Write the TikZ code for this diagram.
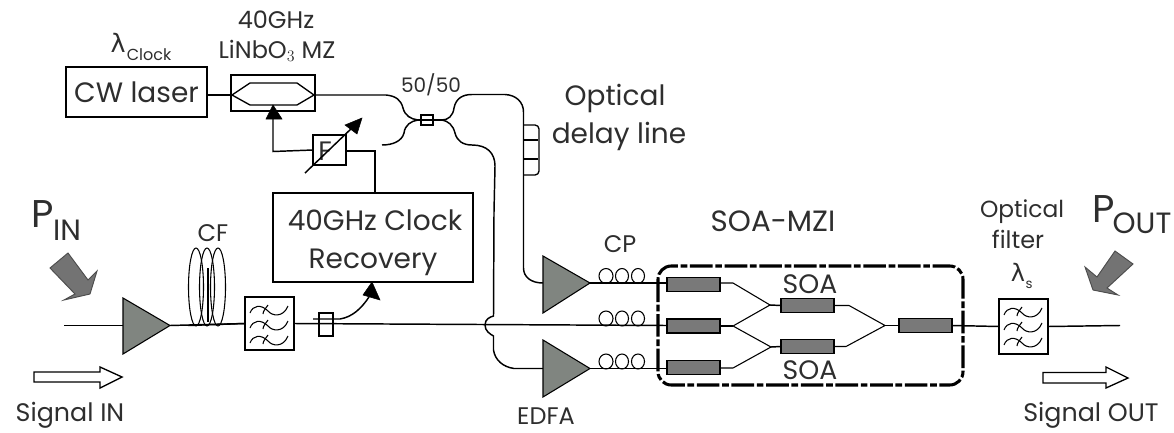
\documentclass[tikz,border=0pt]{standalone}
\usepackage{fontspec}
\setmainfont{Poppins}
\newcommand{\fz}[1]{\fontsize{#1pt}{#1pt}\selectfont}
\definecolor{ampgray}{HTML}{808580}
\definecolor{txt}{HTML}{2E2E2E}
\tikzset{
  x=0.75pt,y=-0.75pt,
  fib/.style={line width=1.1pt,black},
  thinf/.style={line width=0.8pt,black},
  boxn/.style={draw=black,line width=1.2pt,fill=white,inner sep=0pt,outer sep=0pt},
  soa/.style={draw=black,line width=1.2pt,fill=gray!95!black,inner sep=0pt,outer sep=0pt,minimum width=39.75pt,minimum height=10.5pt},
  amp/.style={draw=black,line width=0.8pt,fill=ampgray},
  lab/.style={anchor=base,inner sep=0pt,text=txt},
  blockg/.style={draw=black!70,line width=0.7pt,fill=black!55},
  blockw/.style={draw=black,line width=1pt,fill=white},
  tip/.style={fill=black,draw=black,line width=0.4pt},
  dashbox/.style={draw=black,line width=2.3pt,rounded corners=10pt,dash pattern=on 17pt off 2pt on 5pt off 2pt}
}
\newcommand{\waves}[2]{%
  \begin{scope}[shift={(#1,#2)},thinf]
    \foreach \r in {0,15,30}{
      \draw (5,13+\r) .. controls (8,5+\r) and (16,4+\r) .. (23,11+\r) .. controls (27,16+\r) and (38,18+\r) .. (43,6+\r);
      \draw (23,5+\r) .. controls (21,8+\r) and (18,11+\r) .. (18,14+\r);
    }
  \end{scope}}
\newcommand{\coils}[2]{%
  \begin{scope}[shift={(#1,#2)},thinf]
    \draw (7,-7) circle [x radius=7,y radius=7.5];
    \draw (23,-7) circle [x radius=6.5,y radius=7.5];
    \draw (39,-7) circle [x radius=6.5,y radius=7.5];
  \end{scope}}
\begin{document}
\begin{tikzpicture}
\useasboundingbox (0,0) rectangle (1174,432);
% coordinates
\coordinate (inS) at (64,325.5);
\coordinate (a0in) at (123,325.5);
\coordinate (a0out) at (170,325.5);
\coordinate (outE) at (1120,325.5);
\coordinate (a1in) at (543,283);
\coordinate (a1out) at (590,283);
\coordinate (a2in) at (543,368.5);
\coordinate (a2out) at (590,368.5);
\coordinate (ccL) at (418,120);
\coordinate (ccR) at (442,120);
\coordinate (free) at (382,145);
\coordinate (tapL) at (313,319);
\coordinate (clockTip) at (372,282);
% boxes
\node[boxn,minimum width=105.75pt,minimum height=37.5pt] (cw) at (136.5,92) {};
\node[boxn,minimum width=63pt,minimum height=27pt] (mz) at (273,93) {};
\node[boxn,minimum width=150pt,minimum height=66.75pt] (clk) at (373,237.5) {};
\node[boxn,minimum width=36.75pt,minimum height=39.75pt] (f1) at (269.5,323.5) {};
\node[boxn,minimum width=36.75pt,minimum height=41pt] (f2) at (1023.5,326.5) {};
\node[boxn,minimum width=24.75pt,minimum height=22.5pt] (ps) at (329.5,150) {};
% fibres
\draw[fib] (inS) -- (a0in);
\draw[fib] (a0out) -- (f1.west);
\draw[fib] (f1.east) -- (667,325.5);
\draw[fib] (f2.east) -- (outE);
\draw[fib] (cw.east |- 0,95) -- (mz.west |- 0,95);
\draw[fib] (mz.east |- 0,95) -- (386,95) .. controls (396,96) and (401,100) .. (403,108) .. controls (405,116) and (411,119) .. (ccL);
\draw[fib] (ccL) -- (ccR);
\draw[fib] (ccR) .. controls (448,120) and (453,116) .. (454,108) .. controls (456,98) and (463,94.5) .. (472,94.5) -- (505,94.5) .. controls (516,95) and (523.5,102) .. (523.5,112) -- (523.5,268) .. controls (523.5,277) and (531,283) .. (a1in);
\draw[fib] (ccL) .. controls (411,121) and (405,125) .. (404,133) .. controls (402,141) and (393,145) .. (free);
\draw[fib] (ccR) .. controls (448,121) and (453,125) .. (455,133) .. controls (457,141) and (463,145) .. (472,145) .. controls (487,145) and (495,153) .. (495,166) -- (494,212) -- (493.5,316) .. controls (490,317) and (485,319) .. (485,325) .. controls (485,331) and (490,334) .. (493.5,336) -- (493.5,350) .. controls (495,360) and (503,367) .. (514,368.5) -- (a2in);
% delay line
\draw[thinf,line width=1pt,rounded corners=3pt] (523.5,125) -- (539,125) -- (539,175) -- (523.5,175);
\draw[thinf] (523.5,140) -- (538,140);
\draw[thinf] (523.5,159) -- (538,159);
% coupler
\node[boxn,fill=none,minimum width=9pt,minimum height=7.5pt] (cc) at (427,120) {};
% controls
\draw[fib] (ps.west) -- (273,151.5) -- (273,112);
\draw[fib] (ps.east |- 0,151) -- (375,151) -- (375,193);
\fill[tip] (273,105) -- (282,119) -- (266,119) -- cycle;
\node[lab,font=\fz{20}] (fl) at (325,160) {F};
\draw[fib] (305,173) -- (354,126);
\fill[tip] (362,118) -- (357,134) -- (345,125) -- cycle;
% MZ arms
\draw[thinf,line width=1pt] (232,95) -- (250,83) -- (297,83) -- (314,95) -- (297,105) -- (250,105) -- cycle;
% tap
\draw[fib] (tapL) -- (340,319) .. controls (352,317) and (361,309) .. (369,297);
\fill[tip] (clockTip) -- (380,300) -- (363,295) -- cycle;
\node[boxn,fill=none,minimum width=10.5pt,minimum height=17pt] (tap) at (326,324.5) {};
% CF coil
\begin{scope}[thinf]
\draw (196,287) ellipse [x radius=7.5,y radius=39];
\draw (207,287) ellipse [x radius=7.5,y radius=39];
\draw (218,287) ellipse [x radius=7.5,y radius=39];
\end{scope}
\draw[line width=2pt] (208,268) -- (208,322);
\draw[fib] (188,325.5) -- (f1.west);
% amps
\draw[amp] (a0in) -- (123,298) -- (a0out) -- (123,354) -- cycle;
\draw[amp] (a1in) -- (543,256) -- (a1out) -- (543,313) -- cycle;
\draw[amp] (a2in) -- (543,340) -- (a2out) -- (543,397) -- cycle;
% waves
\waves{245}{300}
\waves{999}{302}
% arms to SOA
\node[soa] (s1) at (693.5,284.5) {};
\node[soa] (s2) at (693.5,326) {};
\node[soa] (s3) at (693.5,367.5) {};
\node[soa] (s4) at (807.5,305.5) {};
\node[soa] (s5) at (807.5,346.5) {};
\node[soa] (s6) at (925.5,325.5) {};
\draw[fib] (a1out) -- (s1.west |- a1out);
\draw[fib] (a2out) -- (s3.west |- a2out);
\draw[fib] (s6.east) -- (f2.west);
\draw[line width=1.8pt] (s2.east) -- (733,326);
\coordinate (j1) at (770,305);
\coordinate (j2) at (771,347);
\coordinate (j3) at (885,325.5);
\draw[thinf] (s1.east |- 0,283) -- (733,283) -- (j1) -- (733,326) -- (j2) -- (733,368) -- (s3.east |- 0,368);
\draw[fib] (j1) -- (s4.west);
\draw[fib] (j2) -- (s5.west);
\draw[thinf] (s4.east) -- (849,305.5) -- (j3) -- (846,346.5) -- (s5.east);
\draw[fib] (j3) -- (s6.west);
\coils{599}{283}
\coils{599}{325.5}
\coils{599}{368.5}
% dash box
\draw[dashbox] (658,266) rectangle (963,385);
% block arrows
\filldraw[blockg] (68,253) -- (50,268) -- (75,294) -- (64,300) -- (90,294) -- (97,271) -- (88,280) -- cycle;
\filldraw[blockg] (1115,251) -- (1133,264) -- (1107,288) -- (1118,295) -- (1093,290) -- (1085,267) -- (1097,277) -- cycle;
\draw[blockw] (34,372) -- (100,372) -- (100,367) -- (122,377) -- (100,388) -- (100,382) -- (34,382) -- cycle;
\draw[blockw] (1043,372.5) -- (1106,372.5) -- (1106,367) -- (1128,378) -- (1106,388) -- (1106,383) -- (1043,383) -- cycle;
% labels
\node[lab,font=\fz{21}] (tcw) at (136.5,102) {CW laser};
\node[lab,font=\fz{21}] (tc1) at (375,230) {40GHz Clock};
\node[lab,font=\fz{21}] (tc2) at (373,268) {Recovery};
\node[lab,font=\fz{21}] (to1) at (615,105) {Optical};
\node[lab,font=\fz{21}] (to2) at (619,143) {delay line};
\node[lab,font=\fz{18}] (t40) at (276,28) {40GHz};
\node[lab,font=\fz{18}] (tli) at (277,58) {LiNbO$_3$ MZ};
\node[lab,font=\fz{15}] (t50) at (431,92) {50/50};
\node[lab,font=\fz{17}] (tlam) at (118,52) {\fontspec{DejaVu Sans}\fz{19}λ};
\node[lab,font=\fz{12}] (tclk) at (149,60) {Clock};
\node[lab,font=\fz{22}] (tmzi) at (773,231) {SOA-MZI};
\node[lab,font=\fz{18}] (tcp) at (620,252) {CP};
\node[lab,font=\fz{18}] (tcf) at (213,241) {CF};
\node[lab,font=\fz{18}] (tedfa) at (546,424) {EDFA};
\node[lab,font=\fz{20}] (ts1) at (810,293) {SOA};
\node[lab,font=\fz{20}] (ts2) at (810,379) {SOA};
\node[lab,font=\fz{17.5}] (tf1) at (1022,217) {Optical};
\node[lab,font=\fz{18}] (tf2) at (1018,248) {filter};
\node[lab,font=\fz{15}] (tl2) at (1018,281) {\fontspec{DejaVu Sans}\fz{18}λ};
\node[lab,font=\fz{10}] (ts) at (1029,288) {s};
\node[lab,font=\fz{29}] (tp1) at (43,227) {P};
\node[lab,font=\fz{22}] (tin) at (67,240) {IN};
\node[lab,font=\fz{29}] (tp2) at (1104,222) {P};
\node[lab,font=\fz{22}] (tout) at (1142,233) {OUT};
\node[lab,font=\fz{19}] (tsi) at (70,421) {Signal IN};
\node[lab,font=\fz{19}] (tso) at (1091,421) {Signal OUT};
\end{tikzpicture}
\end{document}
